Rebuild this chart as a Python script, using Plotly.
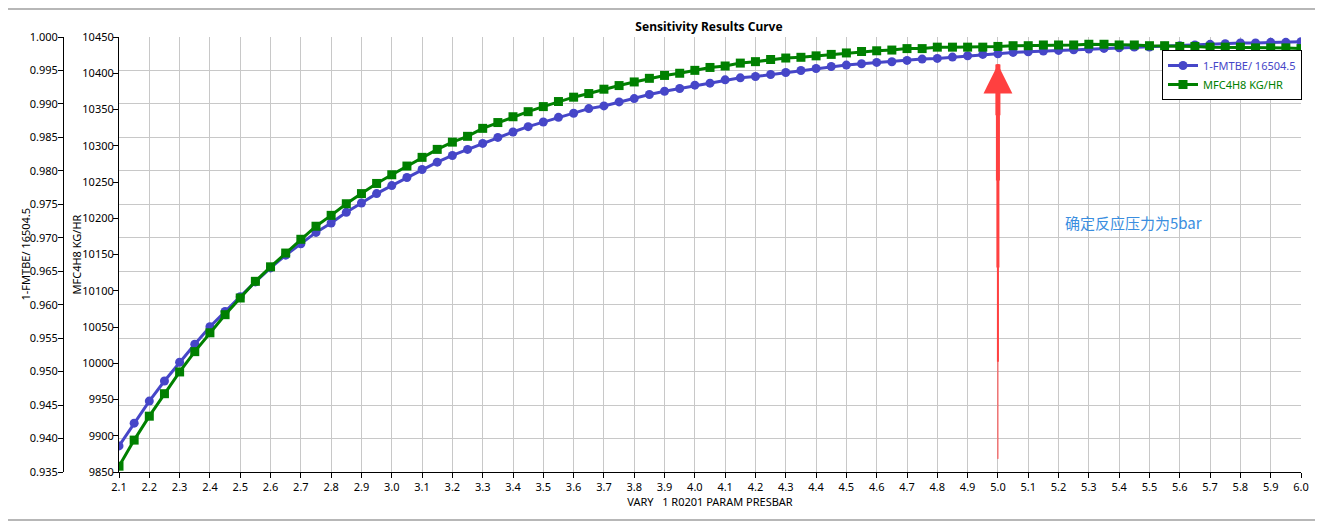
import plotly.graph_objects as go

# pressure values (bar) swept in the sensitivity case
pres = [round(2.1 + 0.05 * i, 2) for i in range(79)]

# 1-FMTBE/ 16504.5  (left outer axis)
fmtbe = [
    0.9389, 0.9423, 0.9456, 0.9486, 0.9514, 0.9541, 0.9567, 0.9590, 0.9612, 0.9634,
    0.9655, 0.9674, 0.9691, 0.9708, 0.9722, 0.9738, 0.9752, 0.9766, 0.9778, 0.9790,
    0.9802, 0.9813, 0.9823, 0.9832, 0.9841, 0.9850, 0.9858, 0.9866, 0.9873, 0.9880,
    0.9886, 0.9893, 0.9897, 0.9903, 0.9908, 0.9914, 0.9919, 0.9923, 0.9928, 0.9931,
    0.9936, 0.9939, 0.9941, 0.9944, 0.9947, 0.9950, 0.9953, 0.9956, 0.9958, 0.9960,
    0.9962, 0.9963, 0.9965, 0.9967, 0.9968, 0.9970, 0.9972, 0.9974, 0.9975, 0.9977,
    0.9978, 0.9979, 0.9980, 0.9981, 0.9982, 0.9983, 0.9984, 0.9985, 0.9985, 0.9986,
    0.9987, 0.9988, 0.9989, 0.9990, 0.9991, 0.9991, 0.9992, 0.9992, 0.9993,
]

# MFC4H8 KG/HR (left inner axis)
mfc4h8 = [
    9858, 9894, 9927, 9958, 9988, 10016, 10042, 10067, 10090, 10113,
    10133, 10152, 10171, 10189, 10204, 10220, 10234, 10248, 10260, 10272,
    10284, 10295, 10305, 10313, 10324, 10332, 10340, 10347, 10354, 10361,
    10367, 10372, 10378, 10383, 10388, 10393, 10397, 10400, 10404, 10408,
    10410, 10414, 10416, 10419, 10421, 10422, 10424, 10426, 10428, 10430,
    10431, 10432, 10434, 10434, 10436, 10436, 10436, 10436, 10437, 10438,
    10438, 10439, 10439, 10439, 10440, 10440, 10439, 10439, 10438, 10438,
    10437, 10437, 10436, 10436, 10436, 10435, 10435, 10435, 10434,
]

x_ticks = [round(2.1 + 0.1 * i, 1) for i in range(40)]

BLUE = "#4646c8"
GREEN = "#008000"
FONT = "Noto Sans"

fig = go.Figure()
fig.add_trace(go.Scatter(
    x=pres, y=fmtbe, mode="lines+markers",
    name=f"<span style='color:{BLUE}'>1-FMTBE/ 16504.5</span>",
    line=dict(color=BLUE, width=3),
    marker=dict(symbol="circle", size=9, color=BLUE),
    yaxis="y",
))
fig.add_trace(go.Scatter(
    x=pres, y=mfc4h8, mode="lines+markers",
    name=f"<span style='color:{GREEN}'>MFC4H8 KG/HR</span>",
    line=dict(color=GREEN, width=3),
    marker=dict(symbol="square", size=9, color=GREEN),
    yaxis="y2",
))

# page body has an 8px margin, so work in window pixels and shift
OFF = 8
W, H = 1323 - OFF, 524 - OFF
L, R, T, B = 22, 22, 37 - OFF, 52
pw, ph = W - L - R, H - T - B


def px(xp):
    return (xp - OFF - L) / pw


def py(yp):
    return (H - B - (yp - OFF)) / ph


axis_font = dict(family=FONT, size=11, color="black")

fig.update_layout(
    width=W, height=H,
    margin=dict(l=L, r=R, t=T, b=B),
    paper_bgcolor="white", plot_bgcolor="white",
    font=dict(family=FONT, size=11, color="black"),
    title=dict(text="<b>Sensitivity Results Curve</b>", x=(709 - OFF) / W, xanchor="center",
               y=1 - (27 - OFF) / H, yanchor="middle", font=dict(family=FONT, size=12)),
    showlegend=True,
    legend=dict(x=px(1302), xanchor="right", y=py(50), yanchor="top",
                bgcolor="white", bordercolor="black", borderwidth=1,
                font=dict(family=FONT, size=11), itemwidth=30, tracegroupgap=0),
    xaxis=dict(
        domain=[px(119), 1.0], range=[2.1, 6.0],
        tickmode="array", tickvals=x_ticks, ticktext=[f"{v:.1f}" for v in x_ticks],
        showgrid=True, gridcolor="#c8c8c8", gridwidth=1,
        showline=True, linecolor="black", linewidth=1,
        ticks="outside", ticklen=5, tickcolor="black",
        tickfont=axis_font, zeroline=False,
        title=dict(text="VARY   1 R0201 PARAM PRESBAR", font=axis_font, standoff=3),
    ),
    yaxis=dict(
        anchor="free", position=px(63), side="left",
        range=[0.935, 1.000], dtick=0.005, tick0=0.935, tickformat=".3f",
        showgrid=True, gridcolor="#c8c8c8", gridwidth=1,
        showline=True, linecolor="black", linewidth=1,
        ticks="outside", ticklen=5, tickcolor="black", ticklabelstandoff=-2,
        tickfont=axis_font, zeroline=False,
    ),
    yaxis2=dict(
        anchor="x", overlaying="y", side="left",
        range=[9850, 10450], dtick=50, tick0=9850, tickformat="d",
        showgrid=False,
        showline=True, linecolor="black", linewidth=1,
        ticks="outside", ticklen=5, tickcolor="black", ticklabelstandoff=-3,
        tickfont=axis_font, zeroline=False,
    ),
)

# vertical axis titles
for text, xp in [("1-FMTBE/ 16504.5", 25), ("MFC4H8 KG/HR", 76)]:
    fig.add_annotation(
        x=px(xp), y=0.5, xref="paper", yref="paper",
        xanchor="center", yanchor="middle", showarrow=False,
        text=text, textangle=-90, font=axis_font,
    )

# window frame around the chart
fig.add_shape(type="rect", xref="paper", yref="paper",
              x0=px(7), x1=px(1319), y0=py(520), y1=py(9),
              line=dict(color="#a0a0a0", width=1.5), layer="below")

# red arrow marking the chosen pressure (tapering: thin tail, thick head)
for y_tail, width, head in [(9866, 1, 0), (10000, 2, 0), (10130, 3, 0),
                            (10250, 4, 0), (10340, 5, 0), (10380, 5.5, 2)]:
    fig.add_annotation(
        x=5.0, y=10412, xref="x", yref="y2",
        ax=5.0, ay=y_tail, axref="x", ayref="y2",
        text="", showarrow=True, arrowhead=head, arrowsize=1.05, arrowwidth=width,
        arrowcolor="#ff4040",
    )
fig.add_annotation(
    x=px(1063), y=py(222), xref="paper", yref="paper",
    xanchor="left", yanchor="middle", showarrow=False,
    text="确定反应压力为5bar",
    font=dict(family="Noto Sans CJK SC", size=15, color="#3a8ee0"),
)

fig.write_html("out.html")
